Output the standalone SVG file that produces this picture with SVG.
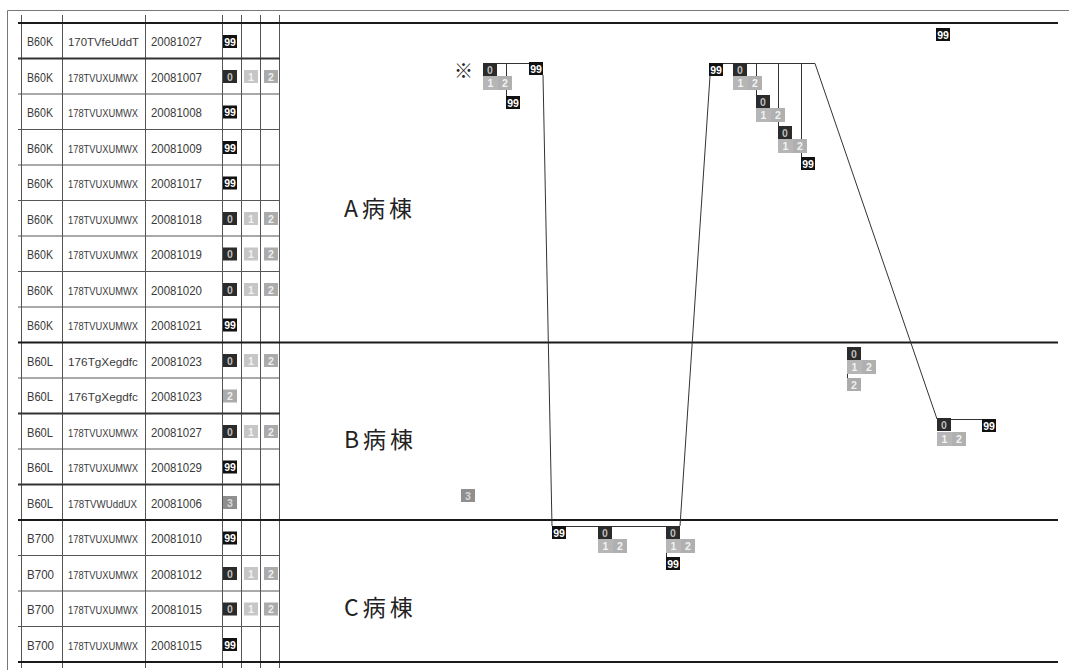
<svg xmlns="http://www.w3.org/2000/svg" width="1069" height="670" viewBox="0 0 1069 670">
  <style>
    .cell { font-family: "Liberation Sans", Arial, sans-serif; font-size: 12.5px; fill: #3a3a3a; }
    .id { font-size: 10.5px; }
    .ward { font-family: "Noto Sans CJK JP", "Noto Sans CJK SC", sans-serif; font-size: 23px; fill: #222; letter-spacing: 4px; }
    .mark { font-family: "Noto Sans CJK JP", sans-serif; font-size: 19px; fill: #222; }
    .bt { font-family: "Liberation Sans", Arial, sans-serif; font-size: 10.5px; font-weight: bold; text-anchor: middle; }
    .k99 rect { fill: #111; } .k99 text { fill: #fff; }
    .k0 rect { fill: #2b2b2b; } .k0 text { fill: #bdbdbd; }
    .k1 rect { fill: #c6c6c6; } .k1 text { fill: #f2f2f2; }
    .k2 rect { fill: #ababab; } .k2 text { fill: #eeeeee; }
    .k3 rect { fill: #8f8f8f; } .k3 text { fill: #d8d8d8; }
    .thin { stroke: #555; stroke-width: 1; fill: none; }
    .sep { stroke: #333; stroke-width: 1.8; fill: none; }
    .sect { stroke: #1a1a1a; stroke-width: 2.2; fill: none; }
    .frame { stroke: #777; stroke-width: 1; fill: none; }
  </style>
  <defs>
    <g id="b99" class="k99"><rect width="14" height="13"/><text class="bt" x="7" y="10.5">99</text></g>
    <g id="b0" class="k0"><rect width="14" height="13"/><text class="bt" x="7" y="10.5">0</text></g>
    <g id="b1" class="k1"><rect width="14" height="13"/><text class="bt" x="7" y="10.5">1</text></g>
    <g id="b2" class="k2"><rect width="14" height="13"/><text class="bt" x="7" y="10.5">2</text></g>
    <g id="b3" class="k3"><rect width="14" height="13"/><text class="bt" x="7" y="10.5">3</text></g>
    <g id="b12"><g class="k1"><rect width="15" height="14" style="fill:#b6b6b6"/><text class="bt" x="7.5" y="11">1</text></g><g class="k1" transform="translate(15,0)"><rect width="14" height="14" style="fill:#b0b0b0"/><text class="bt" x="7" y="11">2</text></g></g>
  </defs>
  <rect width="1069" height="670" fill="#fff"/>

  <!-- outer frame -->
  <g id="frame">
    <path class="frame" d="M7.5,10.5 H1069 M7.5,10.5 V670"/>
  </g>

  <!-- table grid -->
  <g id="grid">
    <path class="thin" d="M21.5,15 V668 M62.5,15 V668 M145.5,15 V668 M222.5,15 V668 M241.5,15 V668 M260.5,15 V668 M279.5,15 V668"/>
    <path class="thin" d="M18,94 H280 M18,129.5 H280 M18,165 H280 M18,200.5 H280 M18,236 H280 M18,271.5 H280 M18,307 H280 M18,378 H280 M18,449 H280 M18,555.5 H280 M18,591 H280 M18,626.5 H280"/>
    <path class="sep" d="M18,58.5 H280 M18,413.5 H280 M18,484.5 H280"/>
    <path class="sect" d="M18,23 H1058 M18,342.5 H1058 M18,520 H1058 M18,662 H1058"/>
  </g>

  <!-- table rows -->
  <g id="row00"><text class="cell" x="27" y="46" textLength="26" lengthAdjust="spacingAndGlyphs">B60K</text><text class="cell id" x="68" y="46" textLength="71" lengthAdjust="spacingAndGlyphs">170TVfeUddT</text><text class="cell" x="151" y="46" textLength="51" lengthAdjust="spacingAndGlyphs">20081027</text><use href="#b99" x="223" y="35"/></g>
  <g id="row01"><text class="cell" x="27" y="81.5" textLength="26" lengthAdjust="spacingAndGlyphs">B60K</text><text class="cell id" x="68" y="81.5" textLength="70" lengthAdjust="spacingAndGlyphs">178TVUXUMWX</text><text class="cell" x="151" y="81.5" textLength="51" lengthAdjust="spacingAndGlyphs">20081007</text><use href="#b0" x="223" y="70"/><use href="#b1" x="244" y="70"/><use href="#b2" x="264" y="70"/></g>
  <g id="row02"><text class="cell" x="27" y="117" textLength="26" lengthAdjust="spacingAndGlyphs">B60K</text><text class="cell id" x="68" y="117" textLength="70" lengthAdjust="spacingAndGlyphs">178TVUXUMWX</text><text class="cell" x="151" y="117" textLength="51" lengthAdjust="spacingAndGlyphs">20081008</text><use href="#b99" x="223" y="105.5"/></g>
  <g id="row03"><text class="cell" x="27" y="152.5" textLength="26" lengthAdjust="spacingAndGlyphs">B60K</text><text class="cell id" x="68" y="152.5" textLength="70" lengthAdjust="spacingAndGlyphs">178TVUXUMWX</text><text class="cell" x="151" y="152.5" textLength="51" lengthAdjust="spacingAndGlyphs">20081009</text><use href="#b99" x="223" y="141"/></g>
  <g id="row04"><text class="cell" x="27" y="188" textLength="26" lengthAdjust="spacingAndGlyphs">B60K</text><text class="cell id" x="68" y="188" textLength="70" lengthAdjust="spacingAndGlyphs">178TVUXUMWX</text><text class="cell" x="151" y="188" textLength="51" lengthAdjust="spacingAndGlyphs">20081017</text><use href="#b99" x="223" y="176.5"/></g>
  <g id="row05"><text class="cell" x="27" y="223.5" textLength="26" lengthAdjust="spacingAndGlyphs">B60K</text><text class="cell id" x="68" y="223.5" textLength="70" lengthAdjust="spacingAndGlyphs">178TVUXUMWX</text><text class="cell" x="151" y="223.5" textLength="51" lengthAdjust="spacingAndGlyphs">20081018</text><use href="#b0" x="223" y="212"/><use href="#b1" x="244" y="212"/><use href="#b2" x="264" y="212"/></g>
  <g id="row06"><text class="cell" x="27" y="259" textLength="26" lengthAdjust="spacingAndGlyphs">B60K</text><text class="cell id" x="68" y="259" textLength="70" lengthAdjust="spacingAndGlyphs">178TVUXUMWX</text><text class="cell" x="151" y="259" textLength="51" lengthAdjust="spacingAndGlyphs">20081019</text><use href="#b0" x="223" y="247.5"/><use href="#b1" x="244" y="247.5"/><use href="#b2" x="264" y="247.5"/></g>
  <g id="row07"><text class="cell" x="27" y="294.5" textLength="26" lengthAdjust="spacingAndGlyphs">B60K</text><text class="cell id" x="68" y="294.5" textLength="70" lengthAdjust="spacingAndGlyphs">178TVUXUMWX</text><text class="cell" x="151" y="294.5" textLength="51" lengthAdjust="spacingAndGlyphs">20081020</text><use href="#b0" x="223" y="283"/><use href="#b1" x="244" y="283"/><use href="#b2" x="264" y="283"/></g>
  <g id="row08"><text class="cell" x="27" y="330" textLength="26" lengthAdjust="spacingAndGlyphs">B60K</text><text class="cell id" x="68" y="330" textLength="70" lengthAdjust="spacingAndGlyphs">178TVUXUMWX</text><text class="cell" x="151" y="330" textLength="51" lengthAdjust="spacingAndGlyphs">20081021</text><use href="#b99" x="223" y="318.5"/></g>
  <g id="row09"><text class="cell" x="27" y="365.5" textLength="26" lengthAdjust="spacingAndGlyphs">B60L</text><text class="cell id" x="68" y="365.5" textLength="70" lengthAdjust="spacingAndGlyphs">176TgXegdfc</text><text class="cell" x="151" y="365.5" textLength="51" lengthAdjust="spacingAndGlyphs">20081023</text><use href="#b0" x="223" y="354"/><use href="#b1" x="244" y="354"/><use href="#b2" x="264" y="354"/></g>
  <g id="row10"><text class="cell" x="27" y="401" textLength="26" lengthAdjust="spacingAndGlyphs">B60L</text><text class="cell id" x="68" y="401" textLength="70" lengthAdjust="spacingAndGlyphs">176TgXegdfc</text><text class="cell" x="151" y="401" textLength="51" lengthAdjust="spacingAndGlyphs">20081023</text><use href="#b2" x="223" y="389.5"/></g>
  <g id="row11"><text class="cell" x="27" y="436.5" textLength="26" lengthAdjust="spacingAndGlyphs">B60L</text><text class="cell id" x="68" y="436.5" textLength="70" lengthAdjust="spacingAndGlyphs">178TVUXUMWX</text><text class="cell" x="151" y="436.5" textLength="51" lengthAdjust="spacingAndGlyphs">20081027</text><use href="#b0" x="223" y="425"/><use href="#b1" x="244" y="425"/><use href="#b2" x="264" y="425"/></g>
  <g id="row12"><text class="cell" x="27" y="472" textLength="26" lengthAdjust="spacingAndGlyphs">B60L</text><text class="cell id" x="68" y="472" textLength="70" lengthAdjust="spacingAndGlyphs">178TVUXUMWX</text><text class="cell" x="151" y="472" textLength="51" lengthAdjust="spacingAndGlyphs">20081029</text><use href="#b99" x="223" y="460.5"/></g>
  <g id="row13"><text class="cell" x="27" y="507.5" textLength="26" lengthAdjust="spacingAndGlyphs">B60L</text><text class="cell id" x="68" y="507.5" textLength="69" lengthAdjust="spacingAndGlyphs">178TVWUddUX</text><text class="cell" x="151" y="507.5" textLength="51" lengthAdjust="spacingAndGlyphs">20081006</text><use href="#b3" x="223" y="496"/></g>
  <g id="row14"><text class="cell" x="27" y="543" textLength="27" lengthAdjust="spacingAndGlyphs">B700</text><text class="cell id" x="68" y="543" textLength="70" lengthAdjust="spacingAndGlyphs">178TVUXUMWX</text><text class="cell" x="151" y="543" textLength="51" lengthAdjust="spacingAndGlyphs">20081010</text><use href="#b99" x="223" y="531.5"/></g>
  <g id="row15"><text class="cell" x="27" y="578.5" textLength="27" lengthAdjust="spacingAndGlyphs">B700</text><text class="cell id" x="68" y="578.5" textLength="70" lengthAdjust="spacingAndGlyphs">178TVUXUMWX</text><text class="cell" x="151" y="578.5" textLength="51" lengthAdjust="spacingAndGlyphs">20081012</text><use href="#b0" x="223" y="567"/><use href="#b1" x="244" y="567"/><use href="#b2" x="264" y="567"/></g>
  <g id="row16"><text class="cell" x="27" y="614" textLength="27" lengthAdjust="spacingAndGlyphs">B700</text><text class="cell id" x="68" y="614" textLength="70" lengthAdjust="spacingAndGlyphs">178TVUXUMWX</text><text class="cell" x="151" y="614" textLength="51" lengthAdjust="spacingAndGlyphs">20081015</text><use href="#b0" x="223" y="602.5"/><use href="#b1" x="244" y="602.5"/><use href="#b2" x="264" y="602.5"/></g>
  <g id="row17"><text class="cell" x="27" y="649.5" textLength="27" lengthAdjust="spacingAndGlyphs">B700</text><text class="cell id" x="68" y="649.5" textLength="70" lengthAdjust="spacingAndGlyphs">178TVUXUMWX</text><text class="cell" x="151" y="649.5" textLength="51" lengthAdjust="spacingAndGlyphs">20081015</text><use href="#b99" x="223" y="638"/></g>

  <!-- ward labels -->
  <g id="ward-a"><text class="ward" x="344" y="217">A病棟</text></g>
  <g id="ward-b"><text class="ward" x="344" y="448">B病棟</text></g>
  <g id="ward-c"><text class="ward" x="344" y="616">C病棟</text></g>

  <!-- transfer connectors -->
  <g id="connectors" stroke="#333" stroke-width="1" fill="none">
    <path d="M497,63.5 H529 M506.5,63.5 V96"/>
    <path d="M543,75 L552,526"/>
    <path d="M566,526.5 H679 M666.5,553 V557"/>
    <path d="M680,526 L710,76"/>
    <path d="M722,63.5 H815 M756.5,63.5 V95 M778.5,63.5 V126 M801.5,63.5 V157"/>
    <path d="M815,63.5 L937,419"/>
    <path d="M847.5,374 V378 M951,419.5 H982"/>
  </g>

  <!-- chart badges -->
  <g id="mark"><text class="mark" x="454" y="78">※</text></g>
  <g id="n-a1"><use href="#b0" x="483" y="63"/><use href="#b12" x="483" y="76"/></g>
  <g id="n-a2"><use href="#b99" x="506" y="96"/></g>
  <g id="n-a3"><use href="#b99" x="529" y="62"/></g>
  <g id="n-c1"><use href="#b99" x="552" y="526"/></g>
  <g id="n-c2"><use href="#b0" x="598" y="526"/><use href="#b12" x="598" y="539"/></g>
  <g id="n-c3"><use href="#b0" x="666" y="526"/><use href="#b12" x="666" y="539"/></g>
  <g id="n-c4"><use href="#b99" x="666" y="557"/></g>
  <g id="n-a4"><use href="#b99" x="709" y="63"/></g>
  <g id="n-a5"><use href="#b0" x="733" y="63"/><use href="#b12" x="733" y="76"/></g>
  <g id="n-a6"><use href="#b0" x="756" y="95"/><use href="#b12" x="756" y="108"/></g>
  <g id="n-a7"><use href="#b0" x="778" y="126"/><use href="#b12" x="778" y="139"/></g>
  <g id="n-a8"><use href="#b99" x="801" y="157"/></g>
  <g id="n-a9"><use href="#b99" x="936" y="28"/></g>
  <g id="n-b1"><use href="#b0" x="847" y="347"/><use href="#b12" x="847" y="360"/><use href="#b2" x="847" y="378"/></g>
  <g id="n-b2"><use href="#b0" x="937" y="418"/><use href="#b12" x="937" y="432"/></g>
  <g id="n-b3"><use href="#b99" x="982" y="419"/></g>
  <g id="n-b4"><use href="#b3" x="461" y="489"/></g>
</svg>
